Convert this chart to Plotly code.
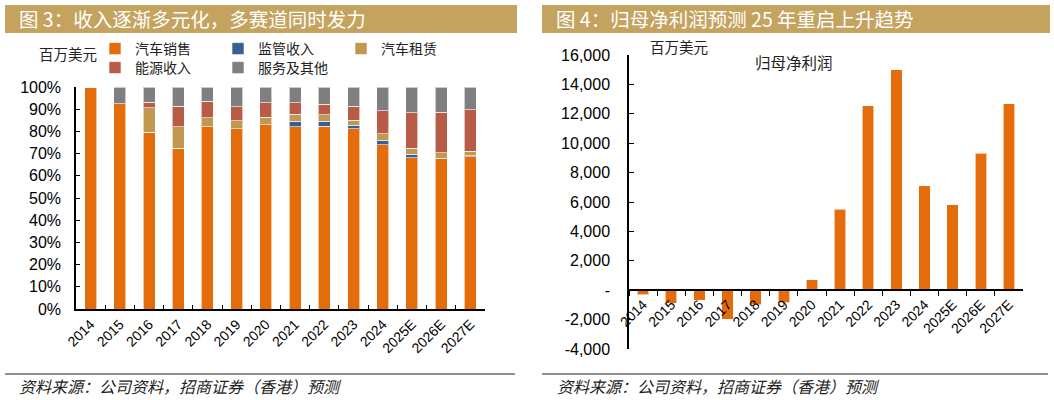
import plotly.graph_objects as go

W, H = 1054, 400

# ---- data ----
years = ["2014", "2015", "2016", "2017", "2018", "2019", "2020",
         "2021", "2022", "2023", "2024", "2025E", "2026E", "2027E"]

# revenue mix, % of total
auto_sales = [100, 92.5, 79.7, 72.5, 82.0, 81.1, 83.0, 82.0, 82.4, 81.1, 74.0, 68.2, 67.6, 68.6]
regulatory = [0, 0, 0, 0, 0, 0, 0, 2.5, 2.1, 1.6, 2.0, 1.5, 0.4, 0.5]
leasing = [0, 0, 11.0, 9.6, 4.2, 3.7, 3.3, 3.2, 3.0, 2.4, 3.0, 2.7, 2.4, 1.9]
energy = [0, 0, 2.5, 9.3, 7.3, 6.2, 6.5, 5.1, 4.8, 6.2, 10.2, 15.9, 18.2, 18.8]
services = [0, 7.5, 6.8, 8.6, 6.5, 9.0, 7.2, 7.2, 7.7, 8.7, 10.8, 11.7, 11.4, 10.2]

mix_names = ["汽车销售", "监管收入", "汽车租赁", "能源收入", "服务及其他"]
mix_values = [auto_sales, regulatory, leasing, energy, services]

# net profit attributable to parent, USD mn
net_profit = [-294, -889, -675, -1961, -976, -862, 721, 5519, 12556, 14997, 7091, 5830, 9300, 12700]

pct_ticks = list(range(0, 101, 10))
profit_ticks = list(range(-4000, 16001, 2000))

# ---- styles ----
mix_colors = ["#E46C0A", "#376092", "#C0984F", "#B85C47", "#7F7F7F"]
mix_legends = ["legend", "legend", "legend", "legend2", "legend2"]
ORANGE = "#E46C0A"
GOLD = "#C4A35F"
CJK = "Noto Sans CJK SC"
LAT = "Liberation Sans"


def px_x(x):
    return x / W


def px_y(y):
    return 1 - y / H


fig = go.Figure()

for name, vals, col, lg in zip(mix_names, mix_values, mix_colors, mix_legends):
    fig.add_trace(go.Bar(
        x=years, y=vals, name=name, legend=lg,
        marker=dict(color=col, line=dict(color="rgba(255,255,255,0.6)", width=1)),
        xaxis="x", yaxis="y",
    ))

fig.add_trace(go.Bar(
    x=years, y=net_profit, name="归母净利润", showlegend=False,
    marker=dict(color=ORANGE, line=dict(color="rgba(255,255,255,0.6)", width=1)),
    xaxis="x2", yaxis="y2",
))

# axis geometry
y1_dom = [px_y(309), px_y(87)]
y2_dom = [px_y(349), px_y(55)]
y2_range = [-4000, 16000]
zero_pos = y2_dom[0] + (0 - y2_range[0]) / (y2_range[1] - y2_range[0]) * (y2_dom[1] - y2_dom[0])

axis_common = dict(showline=True, linecolor="#000", linewidth=1.5,
                   showgrid=False, zeroline=False, tickcolor="#000",
                   fixedrange=True, automargin=False)
xfont = dict(family=LAT, size=14, color="#000")
yfont = dict(family=LAT, size=16, color="#000")

fig.update_layout(
    template="none",
    width=W, height=H, autosize=False,
    margin=dict(l=0, r=0, t=0, b=0, pad=0),
    paper_bgcolor="white", plot_bgcolor="white",
    barmode="stack", bargap=0.59,
    font=dict(family=CJK, color="#000"),
    xaxis=dict(domain=[px_x(76), px_x(485)], anchor="y", type="category",
               tickson="boundaries", ticks="inside", ticklen=4, tickangle=-45,
               tickfont=xfont, **axis_common),
    yaxis=dict(domain=y1_dom, anchor="x", range=[0, 100], tickvals=pct_ticks,
               ticktext=[f"{v}%" for v in pct_ticks], ticks="inside", ticklen=4,
               tickfont=yfont, ticklabelstandoff=10, **axis_common),
    xaxis2=dict(domain=[px_x(629), px_x(1023)], anchor="free", position=zero_pos,
                type="category", tickson="boundaries", ticks="outside", ticklen=5,
                tickangle=-45, tickfont=xfont, **axis_common),
    yaxis2=dict(domain=y2_dom, anchor="x2", range=y2_range, tickvals=profit_ticks,
                ticktext=[f"{v:,}" if v != 0 else "-" for v in profit_ticks],
                ticks="inside", ticklen=5, tickfont=yfont, ticklabelstandoff=14,
                **axis_common),
    legend=dict(orientation="h", x=px_x(95), y=px_y(49), xanchor="left", yanchor="middle",
                entrywidth=78, bgcolor="rgba(0,0,0,0)", traceorder="normal",
                font=dict(family=CJK, size=14, color="#222")),
    legend2=dict(orientation="h", x=px_x(95), y=px_y(68), xanchor="left", yanchor="middle",
                 entrywidth=78, bgcolor="rgba(0,0,0,0)", traceorder="normal",
                 font=dict(family=CJK, size=14, color="#222")),
)

# title bars and footer rules
for x0, x1 in [(5, 517), (542, 1050)]:
    fig.add_shape(type="rect", xref="paper", yref="paper",
                  x0=px_x(x0), x1=px_x(x1), y0=px_y(33), y1=px_y(5),
                  fillcolor=GOLD, line=dict(width=0), layer="below")
    fig.add_shape(type="line", xref="paper", yref="paper",
                  x0=px_x(x0), x1=px_x(x1 - 2), y0=px_y(374), y1=px_y(374),
                  line=dict(color="#222", width=1))

texts = [
    ("图 3：收入逐渐多元化，多赛道同时发力", 17, 19, 19.5, "white"),
    ("图 4：归母净利润预测 25 年重启上升趋势", 554, 19, 19.5, "white"),
    ("百万美元", 37, 53, 14.5, "#222"),
    ("百万美元", 648, 47, 14.5, "#222"),
    ("归母净利润", 753, 62, 15.5, "#222"),
    ("<i>资料来源：公司资料，招商证券（香港）预测</i>", 17, 386, 16, "#222"),
    ("<i>资料来源：公司资料，招商证券（香港）预测</i>", 555, 386, 16, "#222"),
]
for txt, x, y, size, col in texts:
    fig.add_annotation(text=txt, xref="paper", yref="paper", x=px_x(x), y=px_y(y),
                       xanchor="left", yanchor="middle", showarrow=False,
                       font=dict(family=CJK, size=size, color=col))

fig.write_html("out.html", config={"displayModeBar": False},
               post_script="document.body.style.margin='0';")
